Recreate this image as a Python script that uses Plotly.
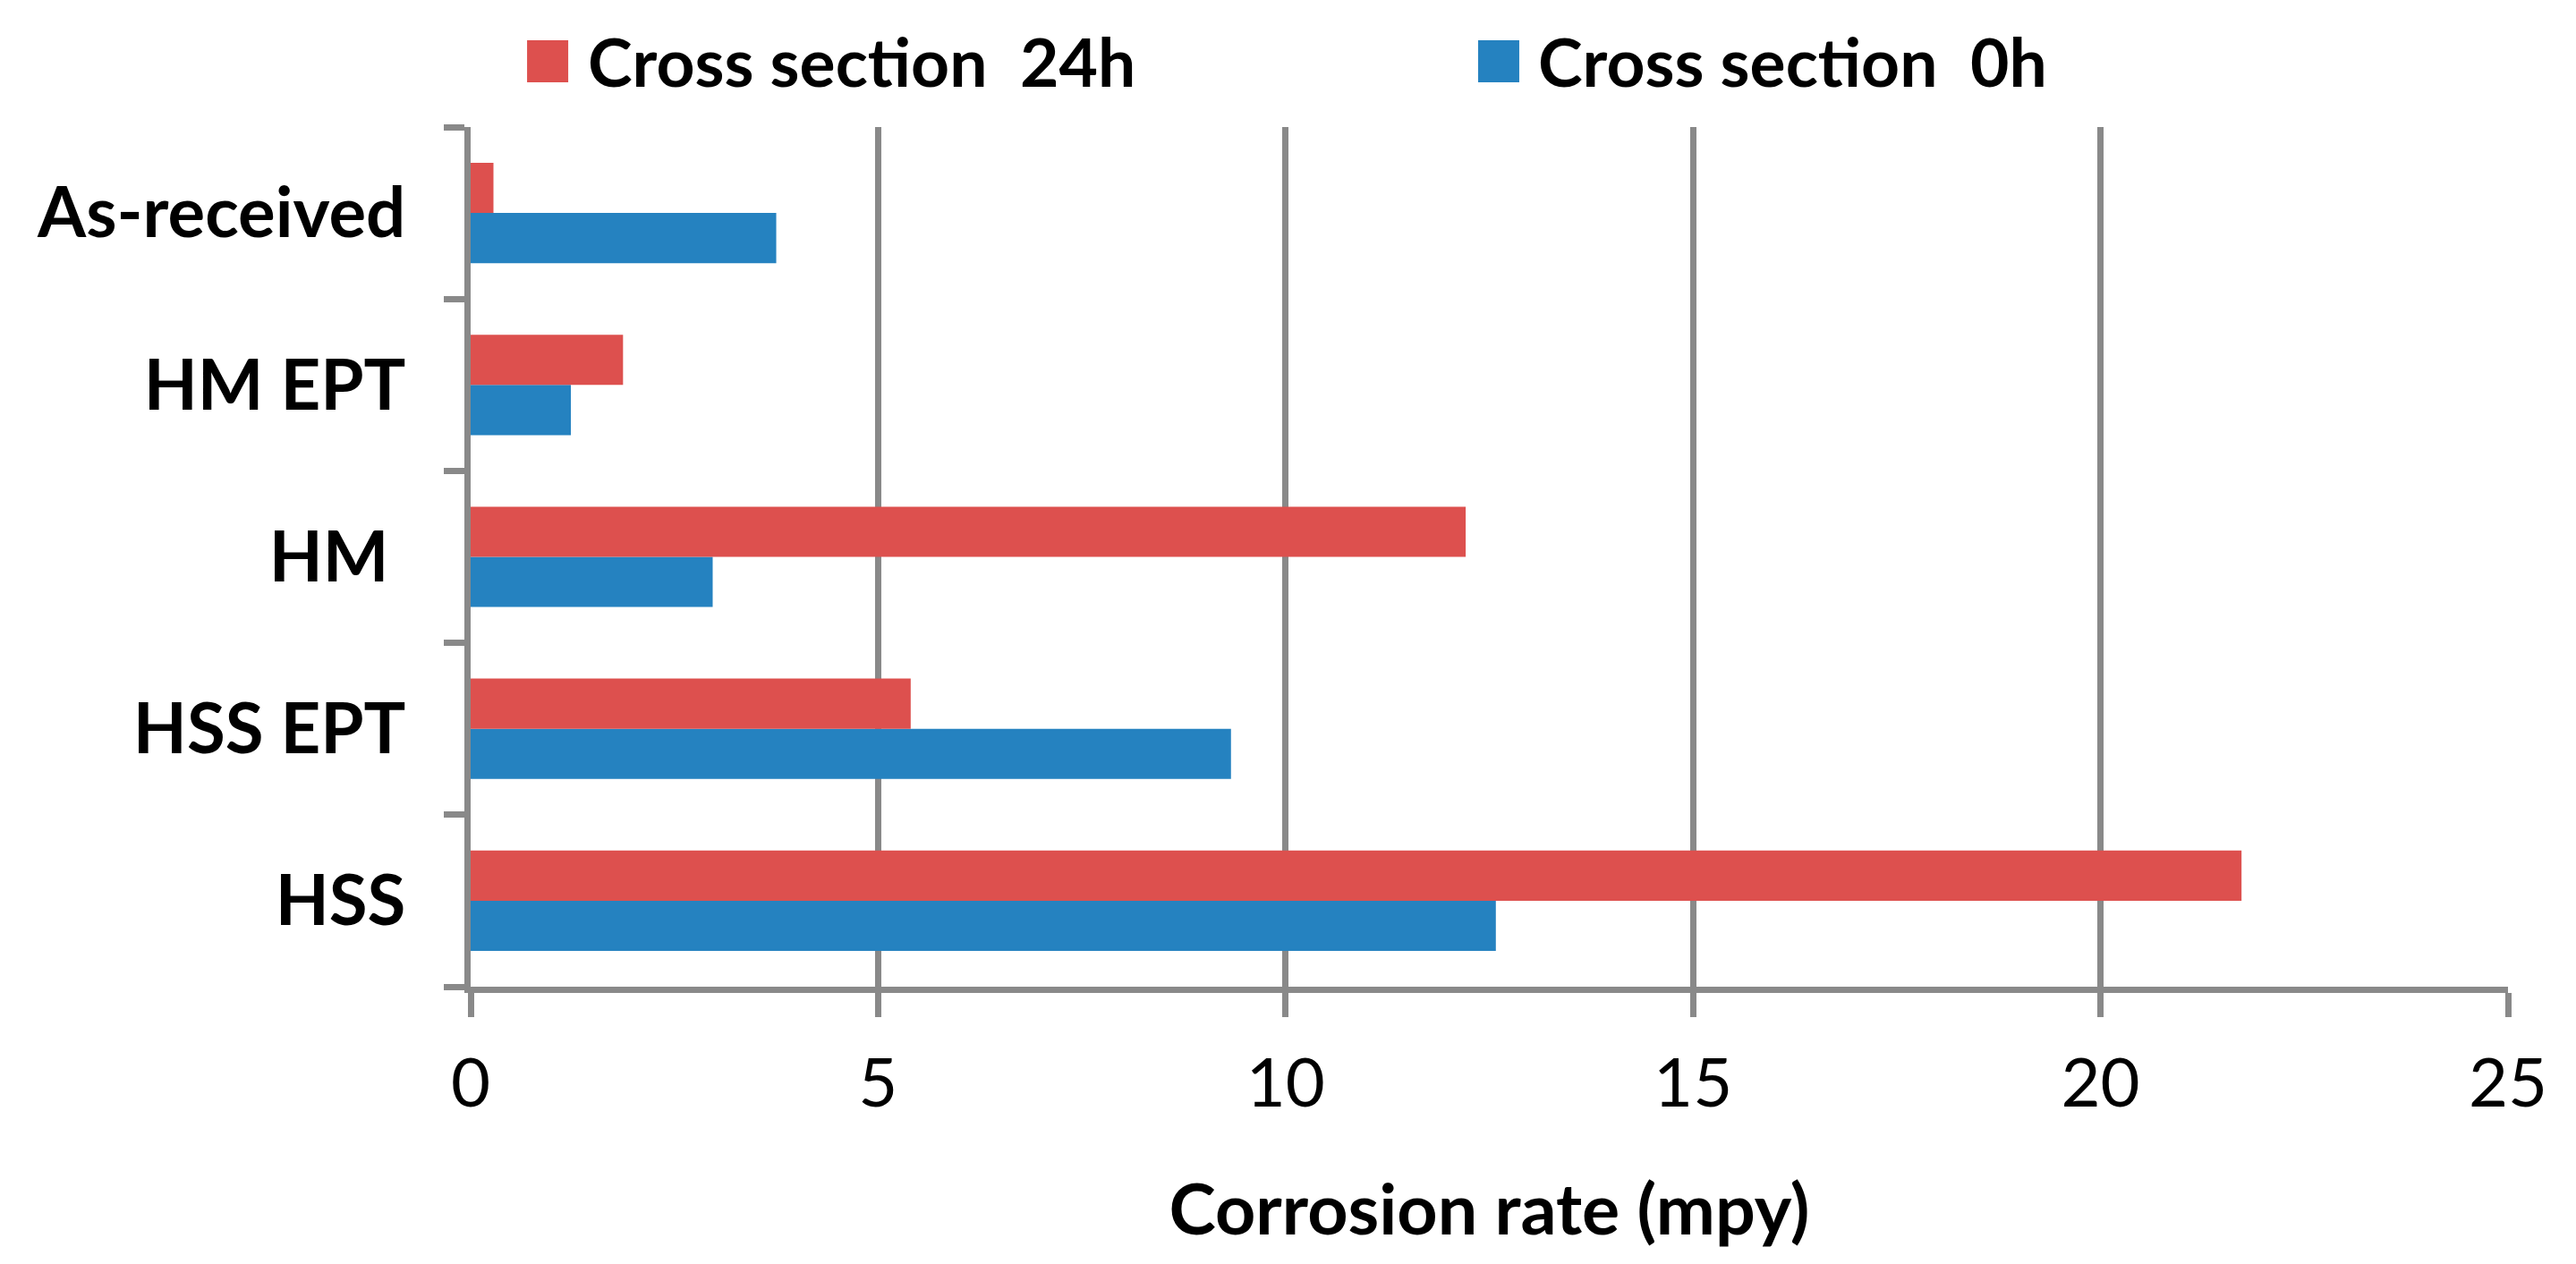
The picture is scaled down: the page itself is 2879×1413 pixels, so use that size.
import plotly.graph_objects as go

categories = ["HSS", "HSS EPT", "HM", "HM EPT", "As-received"]
category_labels = ["HSS", "HSS EPT", "HM\u00a0", "HM EPT", "As-received"]
rate_0h = [12.58, 9.33, 2.97, 1.23, 3.75]
rate_24h = [21.73, 5.40, 12.21, 1.87, 0.28]
series_names = ["Cross section\u00a0 0h", "Cross section\u00a0 24h"]
x_ticks = [0, 5, 10, 15, 20, 25]

RED = "#DD504E"
BLUE = "#2582C0"
GREY = "#898989"
FONT = "Lato, 'Open Sans', sans-serif"

fig = go.Figure()
fig.add_trace(go.Bar(y=categories, x=rate_0h, orientation="h", name=series_names[0],
                     marker=dict(color=BLUE, line=dict(width=0)), showlegend=False))
fig.add_trace(go.Bar(y=categories, x=rate_24h, orientation="h", name=series_names[1],
                     marker=dict(color=RED, line=dict(width=0)), showlegend=False))

# legend drawn in paper coordinates (large square swatches)
legend_items = [(series_names[1], RED, 0.0277, 0.0567), (series_names[0], BLUE, 0.4945, 0.5231)]
for name, col, x0, xt in legend_items:
    fig.add_shape(type="rect", xref="paper", yref="paper", x0=x0, x1=x0 + 0.0202,
                  y0=1.052, y1=1.101, fillcolor=col, line=dict(width=0))
    fig.add_annotation(xref="paper", yref="paper", x=xt, y=1.077, xanchor="left", yanchor="middle",
                       text="<b>%s</b>" % name, showarrow=False,
                       font=dict(family=FONT, size=75, color="black"))

fig.update_layout(
    width=2879, height=1413,
    margin=dict(l=526, r=76, t=142, b=310, pad=0, autoexpand=False),
    paper_bgcolor="white", plot_bgcolor="white",
    barmode="group", bargap=0.416, bargroupgap=0,
    font=dict(family=FONT, color="black"),
)
fig.update_xaxes(
    range=[0, 25], tickvals=x_ticks, ticktext=[str(v) for v in x_ticks],
    showgrid=True, gridcolor=GREY, gridwidth=7, zeroline=False,
    showline=True, linecolor=GREY, linewidth=7, automargin=False,
    ticks="outside", ticklen=27, tickwidth=7, tickcolor=GREY,
    tickfont=dict(family=FONT, size=76, color="black"), ticklabelstandoff=9,
    title=dict(text="<b>Corrosion rate (mpy)</b>", font=dict(family=FONT, size=79, color="black"), standoff=75),
)
fig.update_yaxes(
    type="category", categoryorder="array", categoryarray=categories,
    tickvals=categories, ticktext=["<b>%s</b>" % t for t in category_labels],
    showgrid=False, zeroline=False, automargin=False,
    showline=True, linecolor=GREY, linewidth=7,
    ticks="outside", tickson="boundaries", ticklen=23, tickwidth=7, tickcolor=GREY,
    tickfont=dict(family=FONT, size=78, color="black"), ticklabelstandoff=50,
)

fig.write_html("out.html", config={"displayModeBar": False},
               post_script="document.body.style.margin='0px';")
